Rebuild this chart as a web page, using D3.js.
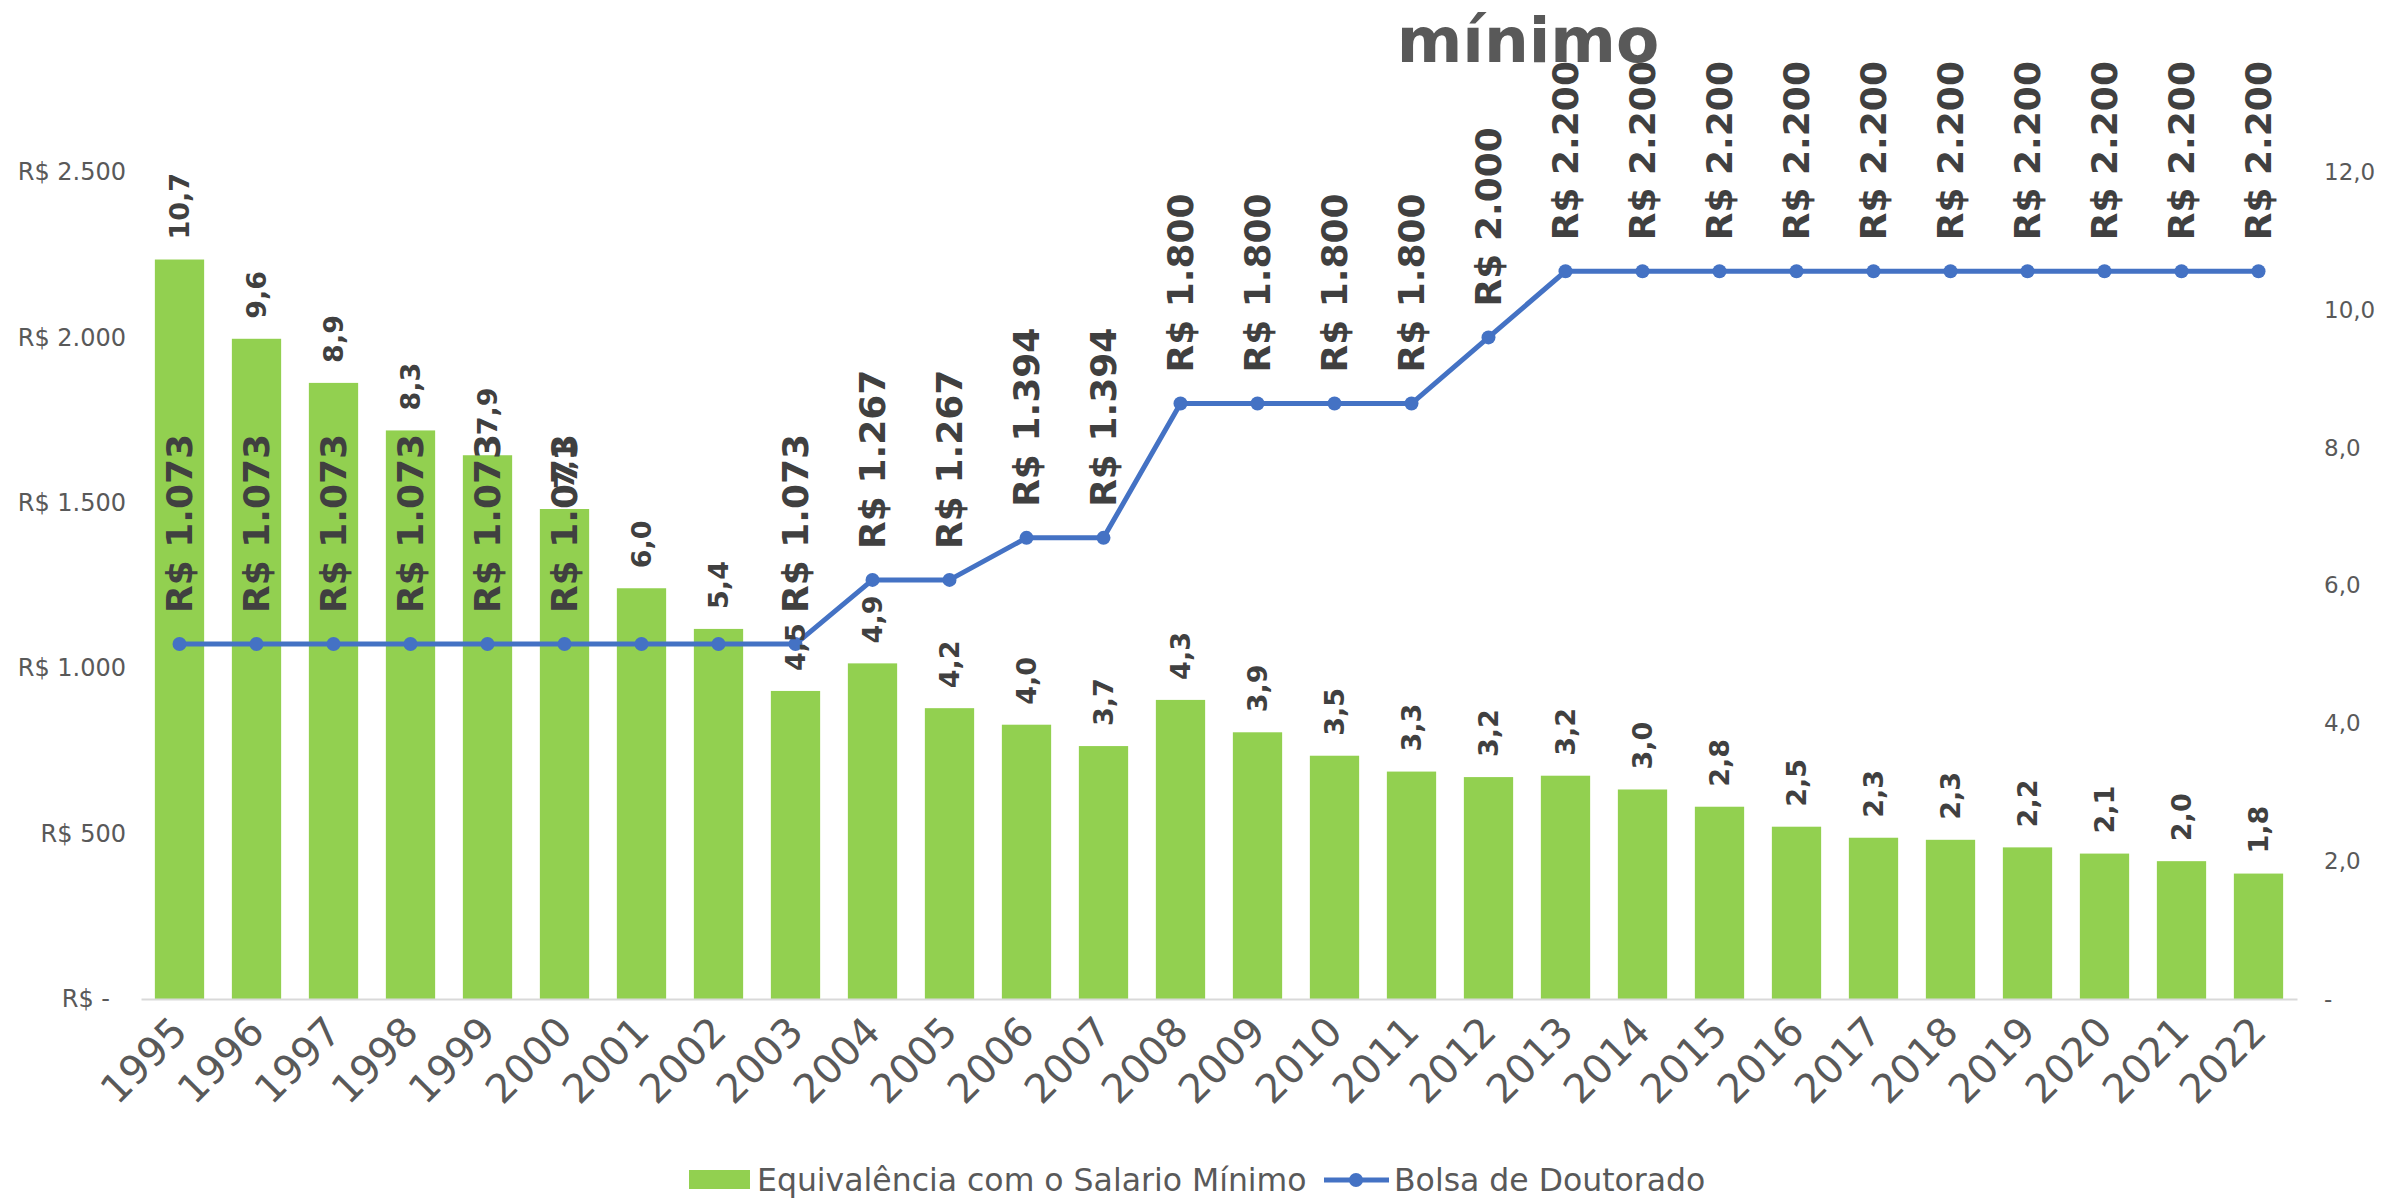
<!DOCTYPE html>
<html><head><meta charset="utf-8">
<script src="https://cdn.jsdelivr.net/npm/d3@7"></script>
<style>body{margin:0;background:#fff}svg{display:block}text{font-family:"DejaVu Sans",sans-serif}</style>
</head><body><div id="chart"></div>
<script>
const years = ["1995","1996","1997","1998","1999","2000","2001","2002","2003","2004","2005","2006","2007","2008","2009","2010","2011","2012","2013","2014","2015","2016","2017","2018","2019","2020","2021","2022"];
const equivalencia = [10.73,9.58,8.94,8.25,7.89,7.11,5.96,5.37,4.47,4.87,4.22,3.98,3.67,4.34,3.87,3.53,3.30,3.22,3.24,3.04,2.79,2.50,2.34,2.31,2.20,2.11,2.00,1.82];
const bolsa = [1073,1073,1073,1073,1073,1073,1073,1073,1073,1267,1267,1394,1394,1800,1800,1800,1800,2000,2200,2200,2200,2200,2200,2200,2200,2200,2200,2200];
// years whose line label is not shown in the original (hidden labels)
const hiddenBolsaLabels = ["2001","2002"];
const leftTicks = [0,500,1000,1500,2000,2500];
const rightTicks = [0,2,4,6,8,10,12];
const seriesNames = ["Equivalência com o Salario Mínimo","Bolsa de Doutorado"];
const titleText = "mínimo";

const W = 2385, H = 1198;
const plot = {left:141, right:2297, top:172, bottom:999};
const svg = d3.select("#chart").append("svg").attr("width",W).attr("height",H);

const x = d3.scaleBand().domain(years).range([plot.left, plot.right]).paddingInner(0.36).paddingOuter(0.18);
const yL = d3.scaleLinear().domain([0,2500]).range([plot.bottom, plot.top]);
const yR = d3.scaleLinear().domain([0,12]).range([plot.bottom, plot.top]);
const cx = d => x(d) + x.bandwidth()/2;

const fmtBRL = d3.formatLocale({decimal:",", thousands:".", grouping:[3], currency:["R$ ",""]});
const fmtInt = fmtBRL.format(",.0f");
const fmt1 = fmtBRL.format(".1f");

// title
svg.append("text").attr("x",1528).attr("y",62).attr("text-anchor","middle")
  .attr("font-size",63).attr("font-weight","bold").attr("fill","#595959").text(titleText);

// bars
svg.append("g").selectAll("rect").data(years).join("rect")
  .attr("x", d => x(d)).attr("width", x.bandwidth())
  .attr("y", (d,i) => yR(equivalencia[i])).attr("height", (d,i) => plot.bottom - yR(equivalencia[i]))
  .attr("fill","#92D050");

// x axis
const xAxis = svg.append("g").attr("transform",`translate(0,${plot.bottom})`)
  .call(d3.axisBottom(x).tickSize(0).tickPadding(0));
xAxis.select(".domain").attr("stroke","#d9d9d9").attr("stroke-width",2);
xAxis.selectAll(".tick text").attr("font-size",40).attr("fill","#595959")
  .attr("text-anchor","end").attr("y",null).attr("dy",null)
  .attr("transform","translate(10,35) rotate(-45)");

// left axis
const lAxis = svg.append("g").attr("transform",`translate(126,0)`)
  .call(d3.axisLeft(yL).tickValues(leftTicks).tickSize(0).tickPadding(0)
  .tickFormat(d => d === 0 ? "R$ -" : "R$ " + fmtInt(d)));
lAxis.select(".domain").remove();
lAxis.selectAll(".tick text").attr("font-size",24).attr("fill","#595959");
lAxis.selectAll(".tick").filter(d => d === 0).select("text").attr("x",-16);

// right axis
const rAxis = svg.append("g").attr("transform",`translate(2324,0)`)
  .call(d3.axisRight(yR).tickValues(rightTicks).tickSize(0).tickPadding(0)
  .tickFormat(d => d === 0 ? "-" : fmt1(d)));
rAxis.select(".domain").remove();
rAxis.selectAll(".tick text").attr("font-size",23).attr("fill","#595959");

// line
const line = d3.line().x(d => cx(d.y)).y(d => yL(d.v));
const pts = years.map((y,i) => ({y, v: bolsa[i]}));
svg.append("path").datum(pts).attr("d", line).attr("fill","none")
  .attr("stroke","#4472C4").attr("stroke-width",5).attr("stroke-linejoin","round");
svg.append("g").selectAll("circle").data(pts).join("circle")
  .attr("cx", d => cx(d.y)).attr("cy", d => yL(d.v)).attr("r",7).attr("fill","#4472C4");

// bar labels
svg.append("g").selectAll("text").data(years).join("text")
  .attr("transform", (d,i) => `translate(${cx(d)},${yR(equivalencia[i]) - 20}) rotate(-90)`)
  .attr("dy","0.36em").attr("font-size",27).attr("font-weight","bold").attr("fill","#404040")
  .text((d,i) => fmt1(equivalencia[i]));

// line labels
svg.append("g").selectAll("text").data(pts.filter(d => !hiddenBolsaLabels.includes(d.y))).join("text")
  .attr("transform", d => `translate(${cx(d.y)},${yL(d.v) - 31}) rotate(-90)`)
  .attr("dy","0.36em").attr("font-size",36).attr("font-weight","bold").attr("fill","#404040")
  .text(d => "R$ " + fmtInt(d.v));

// legend
const lg = svg.append("g");
lg.append("rect").attr("x",689).attr("y",1170).attr("width",61).attr("height",19).attr("fill","#92D050");
lg.append("text").attr("x",757).attr("y",1191).attr("font-size",31.5).attr("fill","#595959").text(seriesNames[0]);
lg.append("line").attr("x1",1324).attr("x2",1389).attr("y1",1180).attr("y2",1180).attr("stroke","#4472C4").attr("stroke-width",5);
lg.append("circle").attr("cx",1356).attr("cy",1180).attr("r",7).attr("fill","#4472C4");
lg.append("text").attr("x",1394).attr("y",1191).attr("font-size",31.5).attr("fill","#595959").text(seriesNames[1]);
</script></body></html>
